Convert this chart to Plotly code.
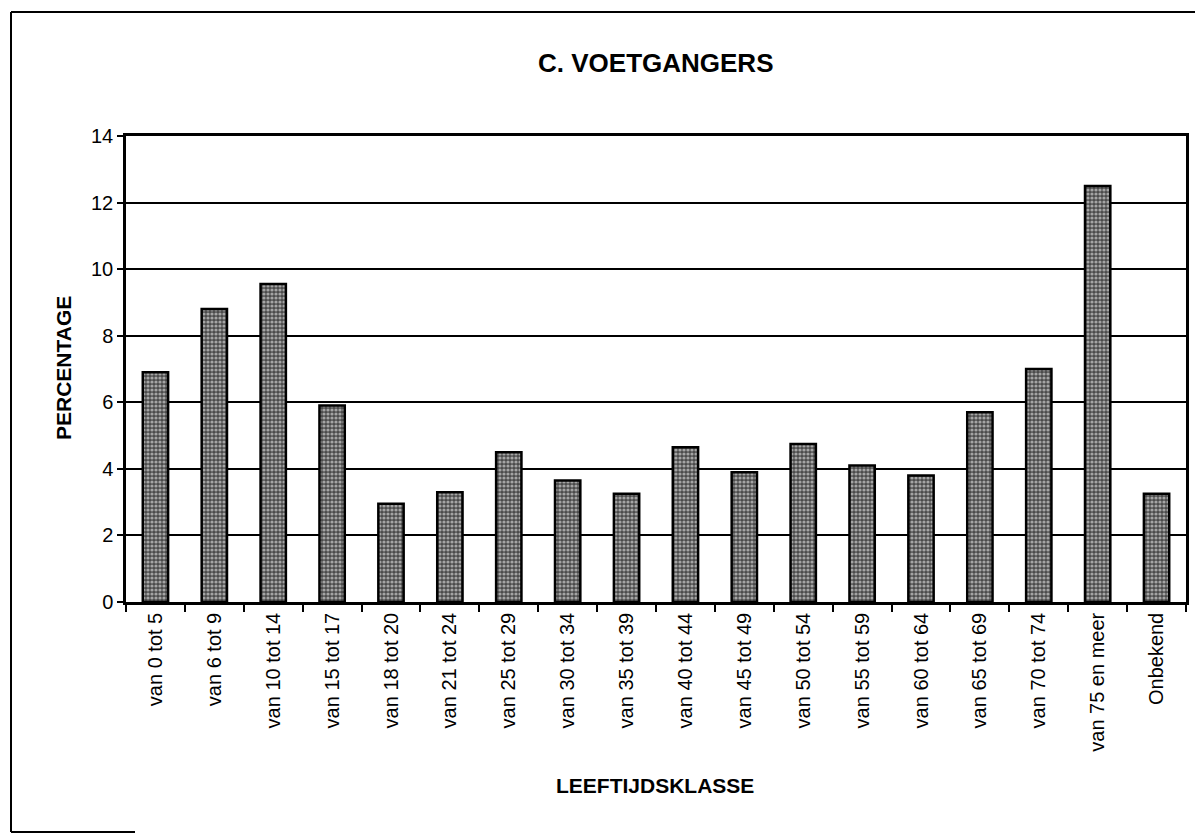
import plotly.graph_objects as go

categories = [
    "van 0 tot 5", "van 6 tot 9", "van 10 tot 14", "van 15 tot 17",
    "van 18 tot 20", "van 21 tot 24", "van 25 tot 29", "van 30 tot 34",
    "van 35 tot 39", "van 40 tot 44", "van 45 tot 49", "van 50 tot 54",
    "van 55 tot 59", "van 60 tot 64", "van 65 tot 69", "van 70 tot 74",
    "van 75 en meer", "Onbekend",
]
percentages = [6.9, 8.8, 9.55, 5.9, 2.95, 3.3, 4.5, 3.65, 3.25, 4.65,
               3.9, 4.75, 4.1, 3.8, 5.7, 7.0, 12.5, 3.25]
y_ticks = [0, 2, 4, 6, 8, 10, 12, 14]

# page is offset by the body margin (8px), so work in page pixels and shift
OFF = 8
W, H = 1203 - OFF, 834 - OFF
L, R, T, B = 126 - OFF, 17, 136 - OFF, 232
pw, ph = W - L - R, H - T - B

def px(x):
    return (x - OFF - L) / pw

def py(y):
    return (H - B - (y - OFF)) / ph

font = "Liberation Sans, Arial, sans-serif"

fig = go.Figure(go.Bar(
    x=categories, y=percentages,
    marker=dict(
        color="#4a4a4a",
        line=dict(color="black", width=2.5),
        pattern=dict(shape=".", fgcolor="white", size=4, solidity=0.5),
    ),
))

def label(text, x, y, size, angle=0):
    return dict(text=f"<b>{text}</b>", x=px(x), y=py(y), xref="paper", yref="paper",
                xanchor="center", yanchor="middle", showarrow=False,
                textangle=angle, font=dict(size=size))

fig.update_layout(
    width=W, height=H,
    margin=dict(l=L, r=R, t=T, b=B),
    paper_bgcolor="white", plot_bgcolor="white",
    bargap=0.57,
    showlegend=False,
    font=dict(family=font, color="black", size=19),
    xaxis=dict(
        type="category", tickangle=-90, tickson="boundaries",
        ticks="outside", ticklen=7, tickwidth=1.5, tickcolor="black",
        showline=True, linecolor="black", linewidth=2.5, mirror=True,
        showgrid=False, tickfont=dict(size=20), automargin=False,
    ),
    yaxis=dict(
        range=[0, 14], tickvals=y_ticks,
        ticks="outside", ticklen=6, tickwidth=1.5, tickcolor="black",
        showline=True, linecolor="black", linewidth=2.5, mirror=True,
        showgrid=True, gridcolor="black", gridwidth=1.5,
        zeroline=False, tickfont=dict(size=20), automargin=False,
    ),
    annotations=[
        label("C. VOETGANGERS", 655, 63, 26),
        label("PERCENTAGE", 63, 368, 21, angle=-90),
        label("LEEFTIJDSKLASSE", 655, 785, 21),
    ],
    shapes=[
        dict(type="line", xref="paper", yref="paper", x0=px(11), x1=px(1210), y0=py(12), y1=py(12),
             line=dict(color="black", width=2)),
        dict(type="line", xref="paper", yref="paper", x0=px(11), x1=px(11), y0=py(12), y1=py(832),
             line=dict(color="black", width=2)),
        dict(type="line", xref="paper", yref="paper", x0=px(11), x1=px(135), y0=py(832), y1=py(832),
             line=dict(color="black", width=2)),
    ],
)

fig.write_html("out.html")
